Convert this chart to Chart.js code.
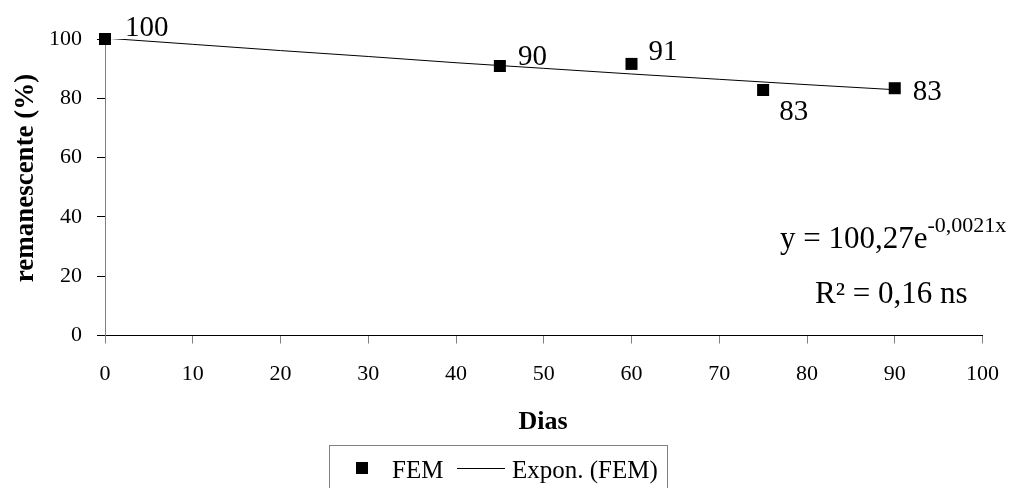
<!DOCTYPE html>
<html>
<head>
<meta charset="utf-8">
<script src="https://cdn.jsdelivr.net/npm/chart.js@4/dist/chart.umd.min.js"></script>
<style>
  html, body { margin: 0; padding: 0; background: #fff; }
  #wrap { width: 1017px; height: 488px; position: relative; }
</style>
</head>
<body>
<div id="wrap"><canvas id="grafico" width="1017" height="488"></canvas></div>
<script>
// Dados
const dias = [0, 45, 60, 75, 90];
const remanescente = [100, 90.9, 91.6, 82.8, 83.4];
const rotulos = ["100", "90", "91", "83", "83"];
// Linha de tendência exponencial
const diasTendencia = [0, 10, 20, 30, 40, 50, 60, 70, 80, 90];
const valoresTendencia = [100.3, 98.2, 96.1, 94.1, 92.0, 90.1, 88.2, 86.4, 84.6, 82.9];
const ticksX = [0, 10, 20, 30, 40, 50, 60, 70, 80, 90, 100];
const ticksY = [0, 20, 40, 60, 80, 100];

const fonte = "'Liberation Serif', 'Times New Roman', serif";
// deslocamento do rótulo (esquerda, linha de base) em relação ao ponto
const posRotulo = [[20, -3], [18, -1], [17, -4], [16, 30], [18, 12]];

const pontos = dias.map((d, i) => ({ x: d, y: remanescente[i] }));
const tendencia = diasTendencia.map((d, i) => ({ x: d, y: valoresTendencia[i] }));

// plugin para textos extras (títulos, rótulos, equação, legenda)
const extras = {
  id: 'extras',
  afterDraw(chart) {
    const ctx = chart.ctx;
    const sx = chart.scales.x, sy = chart.scales.y;
    ctx.save();
    ctx.fillStyle = '#000';

    // rótulos dos pontos
    ctx.font = `29px ${fonte}`;
    ctx.textAlign = 'left';
    ctx.textBaseline = 'alphabetic';
    pontos.forEach((p, i) => {
      const px = sx.getPixelForValue(p.x), py = sy.getPixelForValue(p.y);
      ctx.fillText(rotulos[i], px + posRotulo[i][0], py + posRotulo[i][1]);
    });

    // equação
    ctx.font = `31px ${fonte}`;
    const base = 'y = 100,27e';
    ctx.fillText(base, 780, 248);
    const w = ctx.measureText(base).width;
    ctx.font = `22px ${fonte}`;
    ctx.fillText('-0,0021x', 780 + w, 232);
    ctx.font = `31px ${fonte}`;
    ctx.fillText('R² = 0,16 ns', 815, 303);

    // título eixo X
    ctx.font = `bold 26px ${fonte}`;
    ctx.textAlign = 'center';
    ctx.fillText('Dias', 543, 429);

    // título eixo Y
    ctx.save();
    ctx.translate(33, 178);
    ctx.rotate(-Math.PI / 2);
    ctx.font = `bold 27px ${fonte}`;
    ctx.fillText('remanescente (%)', 0, 0);
    ctx.restore();

    // legenda
    ctx.strokeStyle = '#808080';
    ctx.lineWidth = 1;
    ctx.strokeRect(329.5, 445.5, 338, 50);
    ctx.fillRect(356, 462, 12, 12);
    ctx.font = `25px ${fonte}`;
    ctx.textAlign = 'left';
    ctx.fillText('FEM', 392, 478);
    ctx.strokeStyle = '#000';
    ctx.beginPath();
    ctx.moveTo(457, 468.5);
    ctx.lineTo(505, 468.5);
    ctx.stroke();
    ctx.fillText('Expon. (FEM)', 512, 478);
    ctx.restore();
  }
};

new Chart(document.getElementById('grafico'), {
  type: 'scatter',
  data: {
    datasets: [
      {
        label: 'Expon. (FEM)',
        data: tendencia,
        showLine: true,
        borderColor: '#000',
        borderWidth: 1,
        pointRadius: 0,
        tension: 0
      },
      {
        label: 'FEM',
        data: pontos,
        clip: false,
        pointStyle: 'rect',
        pointRadius: 8.5,
        backgroundColor: '#000',
        borderColor: '#000',
        borderWidth: 0
      }
    ]
  },
  options: {
    responsive: false,
    animation: false,
    events: [],
    layout: { padding: { left: 0, right: 34, top: 39, bottom: 0 } },
    plugins: { legend: { display: false }, tooltip: { enabled: false } },
    scales: {
      x: {
        type: 'linear',
        min: 0, max: 100,
        afterBuildTicks: s => { s.ticks = ticksX.map(v => ({ value: v })); },
        afterFit: s => { s.height = 152.5; },
        border: { color: '#000', width: 1 },
        grid: { drawOnChartArea: false, drawTicks: true, tickLength: 8, color: '#808080' },
        ticks: { color: '#000', font: { family: fonte, size: 22 }, padding: 18, maxRotation: 0 }
      },
      y: {
        min: 0, max: 100,
        afterBuildTicks: s => { s.ticks = ticksY.map(v => ({ value: v })); },
        afterFit: s => { s.width = 105; },
        border: { color: '#808080', width: 1 },
        grid: { drawOnChartArea: false, drawTicks: true, tickLength: 8, color: '#000' },
        ticks: { color: '#000', font: { family: fonte, size: 22 }, padding: 15 }
      }
    }
  },
  plugins: [extras]
});
</script>
</body>
</html>
